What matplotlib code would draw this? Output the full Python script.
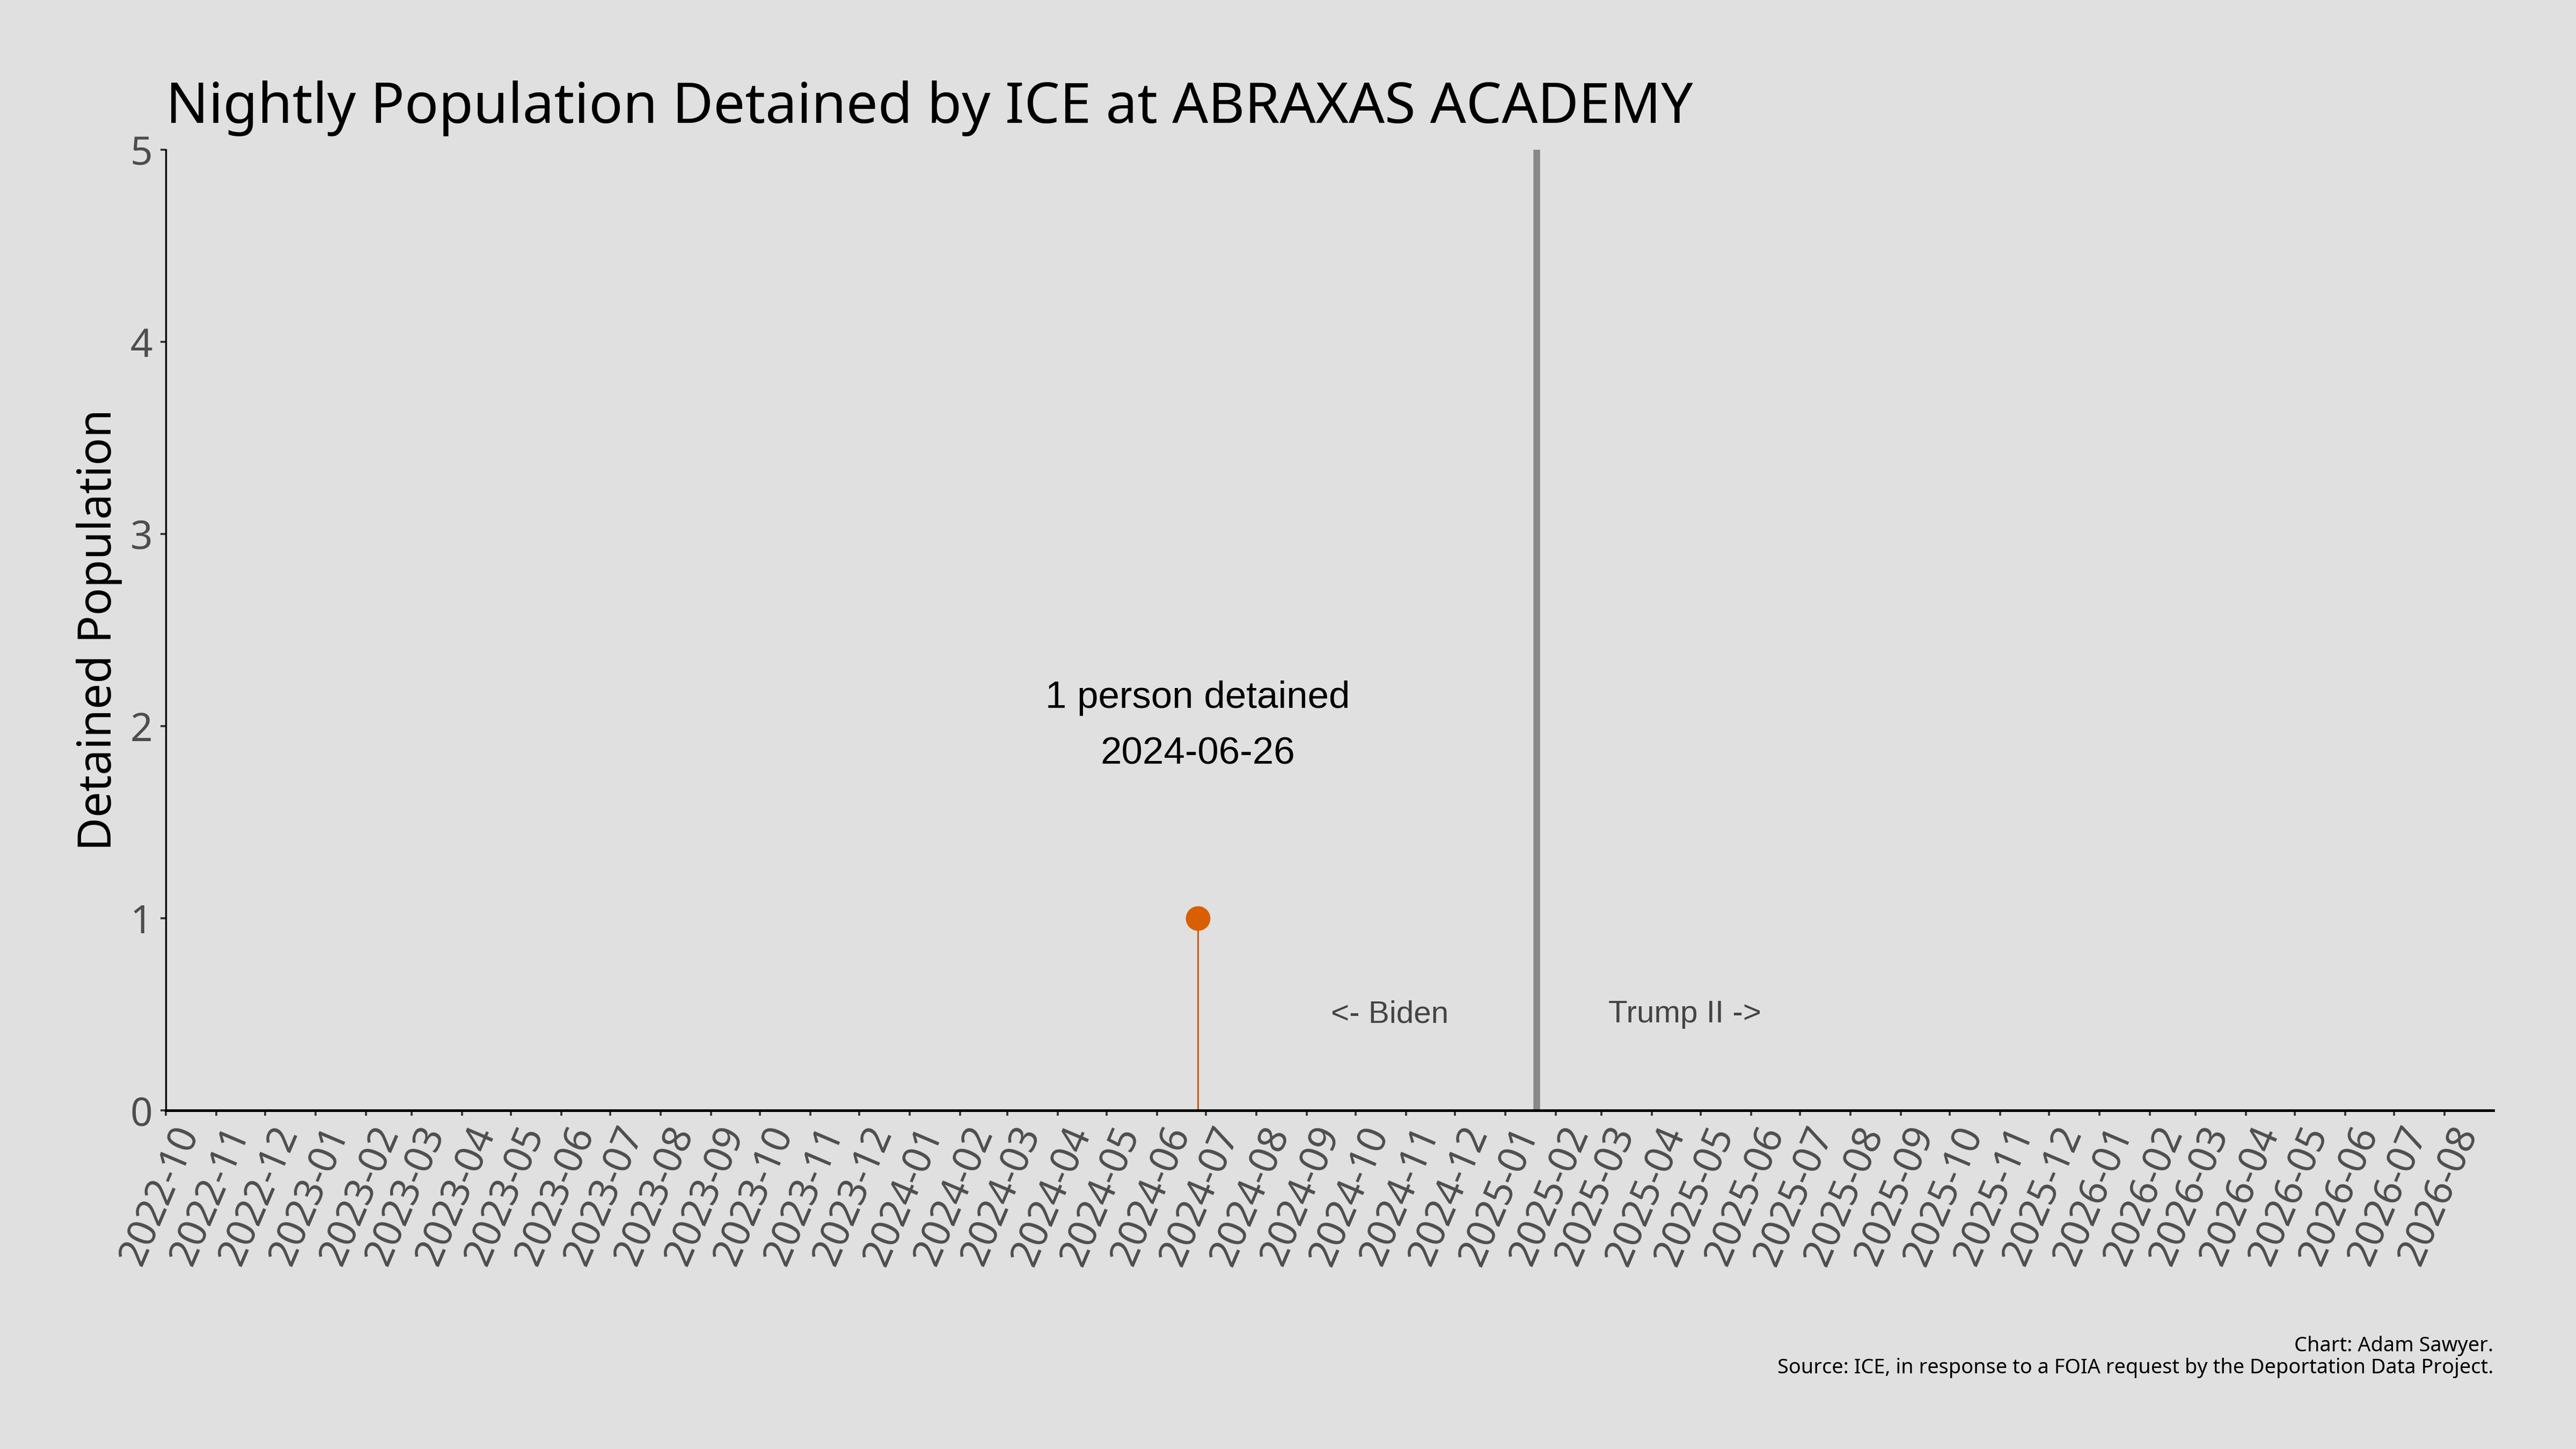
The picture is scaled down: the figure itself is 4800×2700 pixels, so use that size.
import matplotlib
matplotlib.use("Agg")
import matplotlib.pyplot as plt
import matplotlib.dates as mdates
import matplotlib.transforms as mtransforms
import pandas as pd

# Data
dates = ["2024-06-26"]
population = [1]
inauguration = "2025-01-20"
x_start, x_end = "2022-10-01", "2026-08-31"
title = "Nightly Population Detained by ICE at ABRAXAS ACADEMY"
ylabel = "Detained Population"
annot_text = "1 person detained\n2024-06-26"
biden_label = "<- Biden"
trump_label = "Trump II ->"
biden_pos = ("2024-10-22", 0.5)
trump_pos = ("2025-04-21", 0.5)
caption = "Chart: Adam Sawyer.\nSource: ICE, in response to a FOIA request by the Deportation Data Project."

BG = "#e0e0e0"
ORANGE = "#d95f02"
SANS = ["Noto Sans", "DejaVu Sans"]
ARIAL = ["Liberation Sans", "DejaVu Sans"]

fig = plt.figure(figsize=(16, 9), dpi=300, facecolor=BG)
ax = fig.add_axes([0.0644, 0.2337, 0.9036, 0.663])
ax.set_facecolor(BG)

d = pd.to_datetime(dates)
ax.vlines(d, 0, population, color="#c85f1c", linewidth=0.75, zorder=2)
ax.plot(d, population, "o", color=ORANGE, markersize=10, zorder=3)

ax.axvline(pd.Timestamp(inauguration), color="#888888", linewidth=3, zorder=1)
ax.axhline(0, color="#999999", linewidth=0.8, zorder=1)

ax.text(d[0], 2.0, annot_text, ha="center", va="center", fontsize=17,
        family=ARIAL, color="black", linespacing=1.75)
ax.text(pd.Timestamp(biden_pos[0]), biden_pos[1], biden_label, ha="center", va="center",
        fontsize=14, family=ARIAL, color="#444444")
ax.text(pd.Timestamp(trump_pos[0]), trump_pos[1], trump_label, ha="center", va="center",
        fontsize=14, family=ARIAL, color="#444444")

ax.set_xlim(pd.Timestamp(x_start), pd.Timestamp(x_end))
ax.set_ylim(0, 5)
ax.xaxis.set_major_locator(mdates.MonthLocator())
ax.xaxis.set_major_formatter(mdates.DateFormatter("%Y-%m"))
ax.set_yticks(range(0, 6))

for s in ["top", "right"]:
    ax.spines[s].set_visible(False)
ax.spines["left"].set_linewidth(0.8)
ax.spines["bottom"].set_linewidth(1.2)

ax.tick_params(axis="both", colors="#333333", labelcolor="#4d4d4d", length=2.4, width=0.9,
               labelsize=17.5)
ax.tick_params(axis="x", pad=2)
offset = mtransforms.ScaledTranslation(2 / 72, 0, fig.dpi_scale_trans)
for lab in ax.get_xticklabels():
    lab.set_rotation(67)
    lab.set_ha("right")
    lab.set_va("top")
    lab.set_rotation_mode("anchor")
    lab.set_family(SANS)
    lab.set_transform(lab.get_transform() + offset)
for lab in ax.get_yticklabels():
    lab.set_family(SANS)

ax.set_ylabel(ylabel, fontsize=20.5, family=SANS, color="black", labelpad=3.5)
ax.set_title(title, loc="left", fontsize=25.2, family=SANS, color="black", pad=12)

fig.text(0.968, 0.049, caption, ha="right", va="bottom", fontsize=9.1, family=SANS,
         color="black", linespacing=1.1)

fig.savefig("out.png", dpi=300, facecolor=BG)
